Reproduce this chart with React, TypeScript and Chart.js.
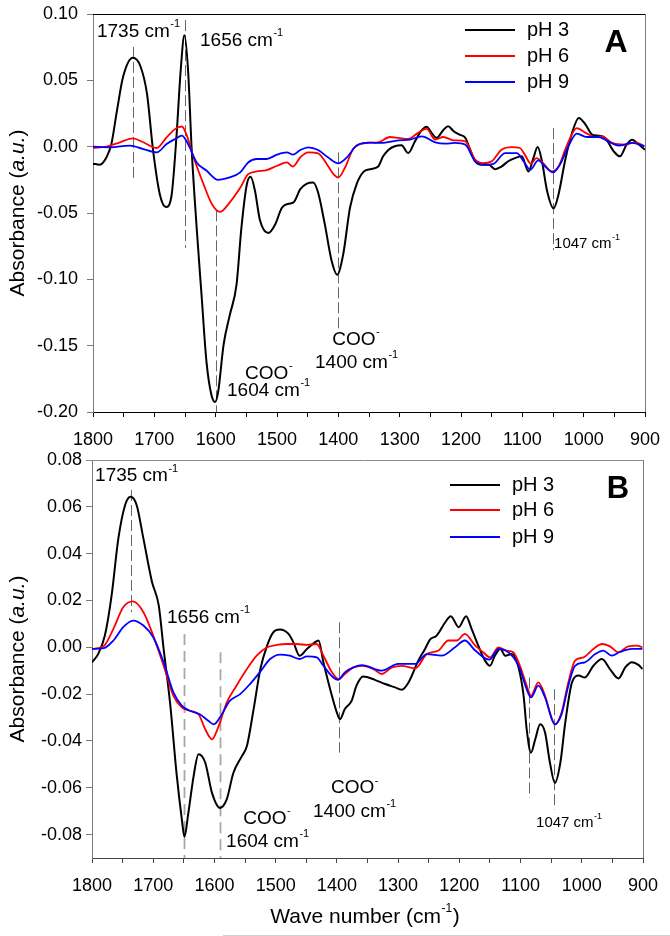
import React, { useEffect, useRef } from "react";
import { Chart, registerables } from "chart.js";

Chart.register(...registerables);

const FONT = "'Liberation Sans', Arial, sans-serif";

// ---------------- Panel A data ----------------
const A_pH3_wn = [1800, 1789, 1778, 1770, 1761, 1751, 1735, 1723, 1712, 1702, 1691, 1681, 1672, 1664, 1657, 1651, 1645, 1639, 1631, 1623, 1615, 1607, 1601, 1596, 1587, 1577, 1566, 1558, 1549, 1543, 1536, 1528, 1514, 1503, 1492, 1481, 1473, 1462, 1452, 1441, 1433, 1422, 1411, 1402, 1392, 1381, 1370, 1359, 1348, 1335, 1327, 1318, 1308, 1297, 1286, 1275, 1264, 1256, 1248, 1240, 1229, 1221, 1212, 1202, 1193, 1185, 1177, 1166, 1155, 1144, 1134, 1123, 1112, 1101, 1090, 1082, 1075, 1068, 1060, 1049, 1041, 1030, 1019, 1008, 997, 986, 976, 965, 951, 941, 930, 921, 913, 900];
const A_pH3_abs = [-0.0128, -0.0136, -0.008, 0.002, 0.027, 0.0525, 0.067, 0.061, 0.04, -0.003, -0.036, -0.0455, -0.037, 0.007, 0.0576, 0.084, 0.0576, -0.003, -0.061, -0.112, -0.162, -0.187, -0.1924, -0.185, -0.149, -0.127, -0.104, -0.061, -0.028, -0.0227, -0.033, -0.055, -0.065, -0.0586, -0.046, -0.043, -0.042, -0.032, -0.028, -0.027, -0.0346, -0.0586, -0.086, -0.0965, -0.081, -0.046, -0.028, -0.019, -0.017, -0.015, -0.0073, -0.0023, 0.0003, 0.001, -0.0048, 0.004, 0.0124, 0.015, 0.0104, 0.0066, 0.0124, 0.0154, 0.0116, 0.009, 0.0066, -0.0023, -0.011, -0.0136, -0.0136, -0.017, -0.015, -0.011, -0.0086, -0.0073, -0.0187, -0.0086, -0.0003, -0.011, -0.0326, -0.0465, -0.036, -0.0098, 0.0103, 0.0217, 0.0167, 0.009, 0.0083, 0.0066, -0.0035, -0.0073, 0.0015, 0.0053, 0.0028, -0.0023];

const A_pH6_wn = [1800, 1778, 1756, 1735, 1718, 1696, 1680, 1666, 1655, 1647, 1636, 1620, 1606, 1593, 1577, 1560, 1547, 1533, 1517, 1500, 1484, 1474, 1462, 1449, 1433, 1419, 1408, 1400, 1389, 1376, 1365, 1348, 1335, 1316, 1302, 1286, 1270, 1256, 1242, 1229, 1212, 1193, 1177, 1164, 1150, 1134, 1117, 1104, 1096, 1086, 1077, 1066, 1052, 1041, 1028, 1011, 997, 981, 970, 954, 932, 916, 901];
const A_pH6_abs = [-0.001, 0, 0.0033, 0.0063, 0.0033, -0.001, 0.007, 0.0134, 0.0152, 0.0083, -0.008, -0.028, -0.0434, -0.0492, -0.042, -0.031, -0.0207, -0.0187, -0.0177, -0.0144, -0.0119, -0.015, -0.008, -0.0043, -0.005, -0.013, -0.0207, -0.0232, -0.0157, -0.0018, 0.002, 0.003, 0.0033, 0.0073, 0.0066, 0.0058, 0.0104, 0.0134, 0.0053, 0.0073, 0.0048, 0.004, -0.0098, -0.0124, -0.011, -0.0023, -0.0003, -0.001, -0.006, -0.0129, -0.0086, -0.0124, -0.0187, -0.015, 0.0003, 0.014, 0.0104, 0.0073, 0.0078, 0.0028, 0.0015, 0.0033, 0.0003];

const A_pH9_wn = [1800, 1772, 1740, 1718, 1696, 1680, 1666, 1655, 1645, 1631, 1615, 1596, 1577, 1560, 1547, 1533, 1517, 1500, 1484, 1474, 1462, 1449, 1433, 1417, 1400, 1386, 1370, 1348, 1330, 1302, 1283, 1264, 1242, 1226, 1210, 1193, 1177, 1161, 1147, 1128, 1109, 1098, 1087, 1074, 1063, 1050, 1038, 1025, 1011, 995, 976, 960, 943, 921, 901];
const A_pH9_abs = [0, -0.0005, 0.0008, -0.0018, -0.0043, 0.002, 0.0058, 0.0083, 0.002, -0.0119, -0.018, -0.025, -0.0232, -0.0194, -0.0119, -0.0093, -0.0093, -0.006, -0.0043, -0.006, -0.0025, -0.0005, -0.0025, -0.008, -0.0126, -0.008, 0.0008, 0.003, 0.0028, 0.0048, 0.0053, 0.0078, 0.0033, 0.0023, 0.0028, 0.0015, -0.011, -0.0136, -0.0129, -0.0048, -0.0048, -0.011, -0.0174, -0.0104, -0.015, -0.0194, -0.0129, 0.0003, 0.0098, 0.0073, 0.0073, 0.004, 0.0008, 0.0028, 0.0003];

// ---------------- Panel B data ----------------
const B_pH3_wn = [1800, 1790, 1779, 1768, 1757, 1746, 1737, 1727, 1716, 1702, 1691, 1683, 1672, 1662, 1653, 1649, 1643, 1634, 1626, 1615, 1604, 1591, 1580, 1569, 1555, 1547, 1536, 1525, 1514, 1504, 1493, 1479, 1471, 1461, 1449, 1436, 1430, 1422, 1411, 1400, 1395, 1387, 1376, 1368, 1357, 1338, 1321, 1305, 1294, 1283, 1267, 1256, 1248, 1237, 1223, 1214, 1201, 1189, 1180, 1169, 1158, 1150, 1142, 1133, 1125, 1114, 1104, 1095, 1090, 1083, 1076, 1068, 1060, 1052, 1044, 1035, 1027, 1016, 1005, 995, 981, 967, 954, 940, 929, 918, 907, 901];
const B_pH3_abs = [-0.0064, -0.0029, 0.005, 0.0221, 0.0464, 0.0607, 0.0643, 0.0607, 0.0464, 0.0279, 0.0179, -0.0007, -0.025, -0.0536, -0.074, -0.081, -0.0715, -0.055, -0.0457, -0.0493, -0.0622, -0.0686, -0.065, -0.0536, -0.0464, -0.0422, -0.0264, -0.0093, 0.0007, 0.0064, 0.0076, 0.0057, 0.0021, -0.0036, -0.0007, 0.0021, 0.0029, -0.0064, -0.0179, -0.0279, -0.0307, -0.0264, -0.0229, -0.0164, -0.0125, -0.0139, -0.0157, -0.0171, -0.0181, -0.015, -0.0057, -0.0007, 0.0033, 0.005, 0.0107, 0.0133, 0.0086, 0.0133, 0.0079, 0.0007, -0.0057, -0.0079, -0.0036, -0.0007, -0.0036, -0.0029, -0.0079, -0.0207, -0.035, -0.045, -0.0393, -0.0329, -0.0364, -0.0493, -0.0579, -0.0493, -0.0322, -0.015, -0.0121, -0.0129, -0.0079, -0.005, -0.0093, -0.0133, -0.0086, -0.0064, -0.0076, -0.0093];

const B_pH6_wn = [1800, 1781, 1765, 1749, 1733, 1716, 1700, 1683, 1667, 1653, 1640, 1626, 1615, 1604, 1594, 1580, 1564, 1547, 1531, 1514, 1498, 1482, 1466, 1449, 1433, 1422, 1408, 1397, 1387, 1373, 1359, 1340, 1327, 1310, 1294, 1272, 1253, 1234, 1218, 1204, 1191, 1174, 1161, 1150, 1136, 1123, 1112, 1101, 1090, 1083, 1071, 1060, 1052, 1044, 1033, 1022, 1011, 997, 981, 967, 954, 940, 924, 910, 901];
const B_pH6_abs = [-0.0007, 0.0004, 0.0079, 0.0171, 0.0196, 0.015, 0.005, -0.0079, -0.0207, -0.0257, -0.0271, -0.0286, -0.035, -0.0393, -0.0343, -0.0236, -0.0164, -0.0093, -0.0036, 0, 0.001, 0.0014, 0.0014, 0.001, 0.0014, -0.0036, -0.0107, -0.0136, -0.0114, -0.0086, -0.0079, -0.0093, -0.0114, -0.0086, -0.0079, -0.009, -0.0029, -0.0014, 0.0029, 0.0029, 0.0057, 0.0007, -0.0021, -0.0043, 0, -0.0014, -0.0021, -0.0079, -0.0164, -0.0207, -0.015, -0.0207, -0.0279, -0.0329, -0.0279, -0.015, -0.0057, -0.0043, -0.0007, 0.0014, 0.0004, -0.0021, 0.0004, 0.0007, 0];

const B_pH9_wn = [1800, 1781, 1765, 1749, 1733, 1716, 1700, 1683, 1667, 1653, 1640, 1624, 1610, 1601, 1588, 1575, 1558, 1542, 1526, 1509, 1493, 1477, 1461, 1449, 1433, 1422, 1409, 1398, 1387, 1373, 1359, 1327, 1300, 1272, 1253, 1229, 1207, 1191, 1174, 1151, 1136, 1114, 1101, 1090, 1083, 1071, 1060, 1044, 1033, 1022, 1011, 995, 978, 965, 951, 937, 918, 901];
const B_pH9_abs = [-0.0007, -0.0004, 0.0029, 0.0086, 0.0114, 0.0093, 0.0043, -0.0064, -0.0193, -0.025, -0.0271, -0.0286, -0.0314, -0.0329, -0.0286, -0.0229, -0.02, -0.0157, -0.0107, -0.005, -0.0031, -0.0036, -0.005, -0.0039, -0.0043, -0.0079, -0.0121, -0.0139, -0.0107, -0.0086, -0.0076, -0.01, -0.0071, -0.0071, -0.0029, -0.0036, 0, 0.0029, -0.0014, -0.0053, -0.0007, -0.0036, -0.0093, -0.0179, -0.0214, -0.0164, -0.0214, -0.0329, -0.0286, -0.0164, -0.0079, -0.0064, -0.0029, -0.0014, -0.0036, -0.0019, -0.0007, -0.0007];

// ---------------- Axis ticks & labels ----------------
const xTicks = [900, 950, 1000, 1050, 1100, 1150, 1200, 1250, 1300, 1350, 1400, 1450, 1500, 1550, 1600, 1650, 1700, 1750, 1800];
const A_yTicks = [-0.2, -0.15, -0.1, -0.05, 0, 0.05, 0.1];
const B_yTicks = [-0.08, -0.06, -0.04, -0.02, 0, 0.02, 0.04, 0.06, 0.08];
const seriesNames = ["pH 3", "pH 6", "pH 9"];
const seriesColors = ["#000000", "#ff0000", "#0000ff"];

// Annotation marker lines: [wave number, from, to, light]
const A_markers: [number, number, number, boolean][] = [
  [1735, 0.0752, -0.0245, false],
  [1650, 0.0954, -0.0763, false],
  [1600, -0.048, -0.2, false],
  [1400, -0.0043, -0.139, false],
  [1050, 0.014, -0.078, false],
];
const B_markers: [number, number, number, boolean][] = [
  [1737, 0.0672, 0.015, false],
  [1649, 0.0057, -0.09, true],
  [1591, -0.0021, -0.09, true],
  [1396, 0.0107, -0.045, false],
  [1086, -0.0129, -0.0643, false],
  [1045, -0.0179, -0.0693, false],
];
// Annotation texts: [wave number (left edge), value (center), text, superscript, small]
const A_labels: [number, number, string, string, boolean][] = [
  [1793.5, 0.0867, "1735 cm", "-1", false],
  [1625.5, 0.08, "1656 cm", "-1", false],
  [1552, -0.171, "COO", "-", false],
  [1581.5, -0.184, "1604 cm", "-1", false],
  [1410, -0.1455, "COO", "-", false],
  [1438, -0.163, "1400 cm", "-1", false],
  [1048.3, -0.073, "1047 cm", "-1", true],
];
const B_labels: [number, number, string, string, boolean][] = [
  [1795, 0.0731, "1735 cm", "-1", false],
  [1677.5, 0.0125, "1656 cm", "-1", false],
  [1553, -0.0731, "COO", "-", false],
  [1581, -0.083, "1604 cm", "-1", false],
  [1409.6, -0.0602, "COO", "-", false],
  [1439, -0.0701, "1400 cm", "-1", false],
  [1074.7, -0.0748, "1047 cm", "-1", true],
];

type Panel = {
  letter: string;
  series: [number[], number[]][];
  yMin: number;
  yMax: number;
  yTicks: number[];
  markers: [number, number, number, boolean][];
  labels: [number, number, string, string, boolean][];
  padTop: number;
  padRight: number;
  yWidth: number;
  xHeight: number;
  yPad: number;
  legend: { lx1: number; lx2: number; tx: number; rows: number[] };
  letterPos: [number, number, number];
  topColor: string;
  rightColor: string;
  leftColor: string;
  bottomColor: string;
  xTitle: boolean;
};

const panelA: Panel = {
  letter: "A",
  series: [[A_pH3_wn, A_pH3_abs], [A_pH6_wn, A_pH6_abs], [A_pH9_wn, A_pH9_abs]],
  yMin: -0.2, yMax: 0.1, yTicks: A_yTicks,
  markers: A_markers, labels: A_labels,
  padTop: 24, padRight: 25, yWidth: 93, xHeight: 48, yPad: 9,
  legend: { lx1: 465, lx2: 515, tx: 527, rows: [40, 66, 92] },
  letterPos: [616, 53, 32],
  topColor: "#000", rightColor: "#7a7a7a", leftColor: "#7a7a7a", bottomColor: "#000",
  xTitle: false,
};
const panelB: Panel = {
  letter: "B",
  series: [[B_pH3_wn, B_pH3_abs], [B_pH6_wn, B_pH6_abs], [B_pH9_wn, B_pH9_abs]],
  yMin: -0.09, yMax: 0.08, yTicks: B_yTicks,
  markers: B_markers, labels: B_labels,
  padTop: 30, padRight: 27, yWidth: 92, xHeight: 78, yPad: 4,
  legend: { lx1: 450, lx2: 500, tx: 512, rows: [55, 80, 107] },
  letterPos: [618, 59, 31],
  topColor: "#8a8a8a", rightColor: "#7a7a7a", leftColor: "#7a7a7a", bottomColor: "#444",
  xTitle: true,
};

function drawSup(ctx: CanvasRenderingContext2D, x: number, y: number, base: string, sup: string, size: number) {
  ctx.font = `${size}px ${FONT}`;
  ctx.textAlign = "left";
  ctx.textBaseline = "middle";
  ctx.fillText(base, x, y);
  const w = ctx.measureText(base).width;
  ctx.font = `${Math.round(size * 0.58)}px ${FONT}`;
  ctx.fillText(sup, x + w + 0.5, y - size * 0.4);
  return w + ctx.measureText(sup).width + 0.5;
}

function makePlugin(p: Panel) {
  return {
    id: "deco" + p.letter,
    beforeDatasetsDraw(chart: any) {
      const { ctx, scales } = chart;
      const xs = scales.x, ys = scales.y;
      ctx.save();
      for (const [wn, a, b, light] of p.markers) {
        const px = Math.round(xs.getPixelForValue(wn)) + 0.5;
        ctx.strokeStyle = light ? "#a8a8a8" : "#555";
        ctx.lineWidth = light ? 1.8 : 0.9;
        ctx.setLineDash(light ? [11, 6] : [11, 4]);
        ctx.beginPath();
        ctx.moveTo(px, ys.getPixelForValue(a));
        ctx.lineTo(px, ys.getPixelForValue(b));
        ctx.stroke();
      }
      ctx.restore();
    },
    afterDraw(chart: any) {
      const { ctx, scales, chartArea } = chart;
      const xs = scales.x, ys = scales.y;
      const { left, right, top, bottom } = chartArea;
      ctx.save();
      // frame
      ctx.lineWidth = 1;
      ctx.strokeStyle = p.topColor;
      ctx.beginPath();
      ctx.moveTo(left - (p.xTitle ? 6 : 0), top + 0.5);
      ctx.lineTo(right, top + 0.5);
      ctx.stroke();
      ctx.strokeStyle = p.rightColor;
      ctx.beginPath();
      ctx.moveTo(right + 0.5, top);
      ctx.lineTo(right + 0.5, bottom);
      ctx.stroke();
      // annotation texts
      ctx.fillStyle = "#000";
      for (const [wn, v, base, sup, small] of p.labels) {
        drawSup(ctx, xs.getPixelForValue(wn), ys.getPixelForValue(v), base, sup, small ? 15 : 19);
      }
      // legend
      p.series.forEach((_, i) => {
        const y = p.legend.rows[i];
        ctx.strokeStyle = seriesColors[i];
        ctx.lineWidth = 2;
        ctx.beginPath();
        ctx.moveTo(p.legend.lx1, y);
        ctx.lineTo(p.legend.lx2, y);
        ctx.stroke();
        ctx.fillStyle = "#000";
        ctx.font = `20px ${FONT}`;
        ctx.textAlign = "left";
        ctx.textBaseline = "middle";
        ctx.fillText(seriesNames[i], p.legend.tx, y);
      });
      // panel letter
      ctx.font = `bold ${p.letterPos[2]}px ${FONT}`;
      ctx.textAlign = "center";
      ctx.textBaseline = "middle";
      ctx.fillText(p.letter, p.letterPos[0], p.letterPos[1]);
      // y title
      ctx.save();
      ctx.translate(18, (top + bottom) / 2);
      ctx.rotate(-Math.PI / 2);
      const parts: [string, boolean][] = [["Absorbance (", false], ["a.u.", true], [")", false]];
      let total = 0;
      for (const [t, it] of parts) {
        ctx.font = `${it ? "italic " : ""}21px ${FONT}`;
        total += ctx.measureText(t).width;
      }
      let cx = -total / 2;
      ctx.textAlign = "left";
      ctx.textBaseline = "middle";
      for (const [t, it] of parts) {
        ctx.font = `${it ? "italic " : ""}21px ${FONT}`;
        ctx.fillText(t, cx, 0);
        cx += ctx.measureText(t).width;
      }
      ctx.restore();
      // x title
      if (p.xTitle) {
        ctx.font = `21px ${FONT}`;
        const w1 = ctx.measureText("Wave number (cm").width;
        ctx.font = `12px ${FONT}`;
        const w2 = ctx.measureText("-1").width;
        ctx.font = `21px ${FONT}`;
        const w3 = ctx.measureText(")").width;
        const tw = w1 + w2 + w3 + 1;
        const x0 = 365 - tw / 2;
        const y0 = 487;
        drawSup(ctx, x0, y0, "Wave number (cm", "-1", 21);
        ctx.font = `21px ${FONT}`;
        ctx.textBaseline = "middle";
        ctx.fillText(")", x0 + w1 + w2 + 1, y0);
        // faint page line at bottom
        ctx.strokeStyle = "#cfcfcf";
        ctx.lineWidth = 1;
        ctx.beginPath();
        ctx.moveTo(223, 505.5);
        ctx.lineTo(670, 505.5);
        ctx.stroke();
      }
      ctx.restore();
    },
  };
}

function buildConfig(p: Panel): any {
  return {
    type: "line",
    data: {
      datasets: p.series.map(([wn, ab], i) => ({
        label: seriesNames[i],
        data: wn.map((w, k) => ({ x: w, y: ab[k] })),
        borderColor: seriesColors[i],
        borderWidth: i === 0 ? 2 : 1.8,
        pointRadius: 0,
        fill: false,
        cubicInterpolationMode: "monotone",
        order: 2 - i,
      })),
    },
    options: {
      animation: false,
      responsive: false,
      maintainAspectRatio: false,
      events: [],
      layout: { padding: { top: p.padTop, right: p.padRight, left: 0, bottom: 0 } },
      plugins: { legend: { display: false }, tooltip: { enabled: false }, title: { display: false } },
      scales: {
        x: {
          type: "linear",
          reverse: true,
          min: 900,
          max: 1800,
          afterBuildTicks: (s: any) => { s.ticks = xTicks.map((v) => ({ value: v })); },
          afterFit: (s: any) => { s.height = p.xHeight; },
          ticks: {
            autoSkip: false,
            maxRotation: 0,
            padding: 12,
            color: "#000",
            font: { family: FONT, size: 18 },
            callback: (v: number) => (v % 100 === 0 ? String(v) : ""),
          },
          grid: { drawOnChartArea: false, drawTicks: true, tickLength: 5, color: p.bottomColor },
          border: { display: true, color: p.bottomColor, width: 1 },
        },
        y: {
          type: "linear",
          min: p.yMin,
          max: p.yMax,
          afterBuildTicks: (s: any) => { s.ticks = p.yTicks.map((v) => ({ value: v })); },
          afterFit: (s: any) => { s.width = p.yWidth; },
          ticks: {
            autoSkip: false,
            padding: p.yPad,
            color: "#000",
            font: { family: FONT, size: 18 },
            callback: (v: number) => v.toFixed(2),
          },
          grid: { drawOnChartArea: false, drawTicks: true, tickLength: 6, color: p.leftColor },
          border: { display: true, color: p.leftColor, width: 1 },
        },
      },
    },
    plugins: [makePlugin(p)],
  };
}

export default function App() {
  const ref1 = useRef<HTMLCanvasElement>(null);
  const ref2 = useRef<HTMLCanvasElement>(null);
  useEffect(() => {
    const c1 = new Chart(ref1.current as HTMLCanvasElement, buildConfig(panelA));
    const c2 = new Chart(ref2.current as HTMLCanvasElement, buildConfig(panelB));
    return () => {
      c1.destroy();
      c2.destroy();
    };
  }, []);
  return (
    <div style={{ position: "absolute", left: 0, top: 0, width: 670, height: 936, background: "#fff", overflow: "hidden" }}>
      <canvas ref={ref1} width={670} height={470} style={{ position: "absolute", left: 0, top: -10, width: 670, height: 470 }} />
      <canvas ref={ref2} width={670} height={506} style={{ position: "absolute", left: 0, top: 430, width: 670, height: 506 }} />
    </div>
  );
}
